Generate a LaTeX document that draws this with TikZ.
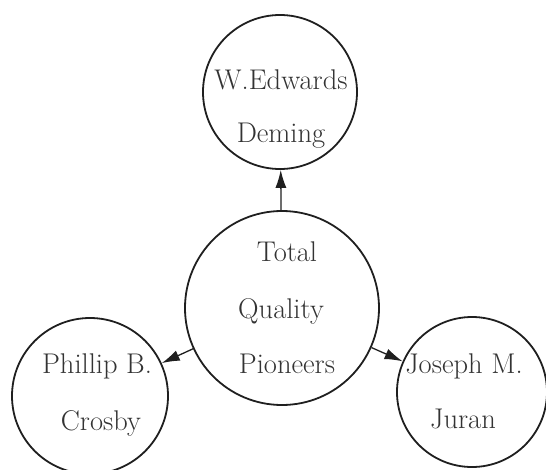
\documentclass[tikz,border=0pt]{standalone}
\usetikzlibrary{arrows.meta}
\begin{document}
\begin{tikzpicture}[x=1pt,y=-1pt,
  pioneer/.style={circle,draw=black!88,line width=1.8pt,minimum size=#1,inner sep=0pt},
  caption/.style={font=\fontsize{28.5}{34}\selectfont,text=black!80,anchor=base,inner sep=0pt},
  link/.style={-{Latex[length=18pt,width=11pt]},line width=1.3pt,draw=black!88}]
\useasboundingbox (0,0) rectangle (546,469);
% circles
\node[pioneer=154pt] (dem) at (280,92) {};
\node[pioneer=194pt] (cen) at (282,308) {};
\node[pioneer=156pt] (cro) at (90,396) {};
\node[pioneer=150pt] (jur) at (472,392) {};
% names
\node[caption] (demA) at (281,89) {W.Edwards};
\node[caption] (demB) at (281,142) {Deming};
\node[caption] (cenA) at (287,261) {Total};
\node[caption] (cenB) at (281,318) {Quality};
\node[caption] (cenC) at (287,373) {Pioneers};
\node[caption] (croA) at (97,373) {Phillip B.};
\node[caption] (croB) at (101,430) {Crosby};
\node[caption] (jurA) at (464,373) {Joseph M.};
\node[caption] (jurB) at (463,428) {Juran};
% arrows
\draw[link] (cen) -- (dem);
\draw[link] (cen) -- (cro);
\draw[link] (cen) -- (jur);
\end{tikzpicture}
\end{document}
